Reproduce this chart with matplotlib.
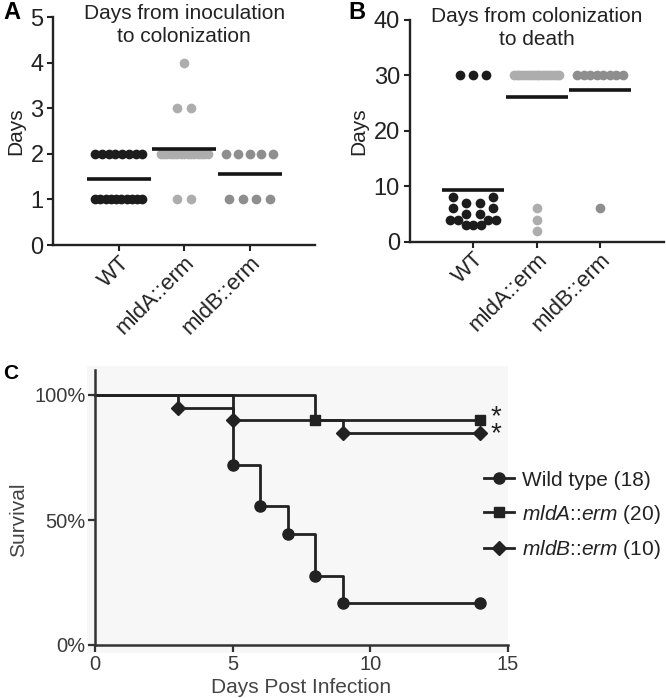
import numpy as np
import matplotlib
matplotlib.use('Agg')
import matplotlib.pyplot as plt
from matplotlib.lines import Line2D
from matplotlib.patches import Rectangle

plt.rcParams['font.family'] = ['Liberation Sans', 'DejaVu Sans']
plt.rcParams['mathtext.fontset'] = 'custom'
plt.rcParams['mathtext.rm'] = 'Liberation Sans'
plt.rcParams['mathtext.it'] = 'Liberation Sans:italic'

groups = ['WT', 'mldA::erm', 'mldB::erm']
group_colors = ['#1c1c1c', '#adadad', '#8e8e8e']

# A: days from inoculation to colonization
col_wt = [1, 1, 1, 1, 1, 1, 1, 1, 1, 1, 2, 2, 2, 2, 2, 2, 2, 2]
col_mlda = [1, 1, 2, 2, 2, 2, 2, 2, 2, 2, 2, 2, 2, 2, 2, 2, 2, 3, 3, 4]
col_mldb = [1, 1, 1, 1, 2, 2, 2, 2, 2]

# B: days from colonization to death
death_wt = [3, 3, 3, 4, 4, 4, 4, 5, 5, 6, 6, 7, 7, 8, 8, 30, 30, 30]
death_mlda = [2, 4, 6, 30, 30, 30, 30, 30, 30, 30, 30, 30, 30, 30, 30, 30, 30, 30, 30, 30]
death_mldb = [6, 30, 30, 30, 30, 30, 30, 30, 30]

# C: survival curves (day, percent surviving)
wt_days = [0, 5, 6, 7, 8, 9, 14]
wt_surv = [100, 72.2, 55.6, 44.4, 27.8, 16.7, 16.7]
mlda_days = [0, 8, 14]
mlda_surv = [100, 90, 90]
mldb_days = [0, 3, 5, 9, 14]
mldb_surv = [100, 95, 90, 85, 85]

W, H = 666, 698
fig = plt.figure(figsize=(W / 100, H / 100), dpi=100)
ink = '#222222'


def px_axes(l, r, b, t):
    return fig.add_axes([l / W, 1 - b / H, (r - l) / W, (b - t) / H])


def swarm(ax, center, values, bin_px=10, width=0.72, s_max=0.21):
    # spread points that sit close together vertically, lowest in the middle
    (_, y0), (_, y1) = ax.transData.transform([(0, 0), (1, 1)])
    ky = abs(y1 - y0)
    vals = sorted(values)
    xs, ys = [], []
    i = 0
    while i < len(vals):
        j = i
        while j < len(vals) and (vals[j] - vals[i]) * ky < bin_px:
            j += 1
        chunk = vals[i:j]
        n = len(chunk)
        s = min(s_max, width / (n - 1)) if n > 1 else 0
        slots = sorted([(k - (n - 1) / 2) * s for k in range(n)],
                       key=lambda o: (round(abs(o), 6), o))
        for v, o in zip(chunk, slots):
            xs.append(center + o)
            ys.append(v)
        i = j
    return xs, ys


def dot_panel(ax, data, ymax, yticks, title):
    ax.set_xlim(0, 4)
    ax.set_ylim(0, ymax)
    for s in ['top', 'right']:
        ax.spines[s].set_visible(False)
    for s in ['left', 'bottom']:
        ax.spines[s].set_linewidth(1.7)
        ax.spines[s].set_color(ink)
    for k, (vals, c) in enumerate(zip(data, group_colors)):
        xs, ys = swarm(ax, k + 1, vals)
        ax.plot(xs, ys, 'o', ms=7, color=c, mec='none', zorder=2, clip_on=False)
        ax.hlines(np.mean(vals), k + 1 - 0.49, k + 1 + 0.49, color='#151515', lw=2.6, zorder=3)
    ax.set_yticks(yticks)
    ax.set_xticks([1, 2, 3])
    ax.set_xticklabels(groups, rotation=45, ha='right', va='top',
                       rotation_mode='anchor', fontsize=16)
    ax.tick_params(length=4, width=1.5, color=ink, labelcolor=ink, pad=3)
    ax.tick_params(axis='x', pad=1)
    ax.tick_params(axis='y', labelsize=17)
    ax.set_ylabel('Days', fontsize=15, color=ink, labelpad=4)
    ax.text(0.5, 1.06, title, transform=ax.transAxes, ha='center', va='top',
            fontsize=15, color=ink, linespacing=1.3)


axA = px_axes(53.3, 315, 245, 17.3)
dot_panel(axA, [col_wt, col_mlda, col_mldb], 5, [0, 1, 2, 3, 4, 5],
          'Days from inoculation\nto colonization')

axB = px_axes(409.7, 663.5, 241.7, 20)
dot_panel(axB, [death_wt, death_mlda, death_mldb], 40, [0, 10, 20, 30, 40],
          'Days from colonization\nto death')

fig.text(3 / W, 1 - 1 / H, 'A', fontsize=17, fontweight='bold', va='top', ha='left')
fig.text(348 / W, 1 - 1 / H, 'B', fontsize=17, fontweight='bold', va='top', ha='left')
fig.text(3 / W, 1 - 364 / H, 'C', fontsize=15, fontweight='bold', va='top', ha='left')

# C: survival
axC = px_axes(95.2, 507.7, 645, 370)
axC.patch.set_alpha(0)
axC.add_patch(Rectangle((-0.02, -0.029), 1.0206, 1.0436, transform=axC.transAxes,
                        facecolor='#f7f7f7', edgecolor='none', zorder=0, clip_on=False))
curves = [(wt_days, wt_surv, 'o', 8, 'Wild type (18)'),
          (mlda_days, mlda_surv, 's', 7.5, r'$mldA$::$erm$ (20)'),
          (mldb_days, mldb_surv, 'D', 7, r'$mldB$::$erm$ (10)')]
handles = []
for days, surv, mk, ms, lab in curves:
    axC.step(days, surv, where='post', color=ink, lw=2, zorder=2, clip_on=False)
    axC.plot(days[1:], surv[1:], mk, ms=ms, color=ink, zorder=3, clip_on=False)
    handles.append(Line2D([], [], color=ink, lw=2, marker=mk, ms=ms, label=lab))

# significance marks for the two mutants, stacked in one text
axC.annotate('*\n*', xy=(mlda_days[-1], (mlda_surv[-1] + mldb_surv[-1]) / 2),
             xytext=(11, 0.5), textcoords='offset points', ha='center', va='center',
             fontsize=20, color=ink, linespacing=0.52)

axC.set_xlim(0, 15)
axC.set_ylim(0, 110)
for s in ['top', 'right']:
    axC.spines[s].set_visible(False)
for s in ['left', 'bottom']:
    axC.spines[s].set_linewidth(1.8)
    axC.spines[s].set_color('#333333')
axC.set_xticks([0, 5, 10, 15])
axC.set_yticks([0, 50, 100])
axC.set_yticklabels(['0%', '50%', '100%'])
axC.tick_params(length=5, width=1.6, color='#333333', labelcolor='#3a3a3a',
                labelsize=14.5, pad=2)
axC.set_xlabel('Days Post Infection', fontsize=15, color='#444444', labelpad=3)
fig.text(19 / W, 1 - 520 / H, 'Survival', rotation=90, ha='center', va='center',
         fontsize=15, color='#444444')

fig.legend(handles=handles, loc='center left', bbox_to_anchor=(484 / W, 1 - 516 / H),
           frameon=False, fontsize=15, handlelength=1.45, handletextpad=0.35,
           labelspacing=0.62, borderpad=0, borderaxespad=0, labelcolor=ink)

fig.savefig('out.png', dpi=100)
